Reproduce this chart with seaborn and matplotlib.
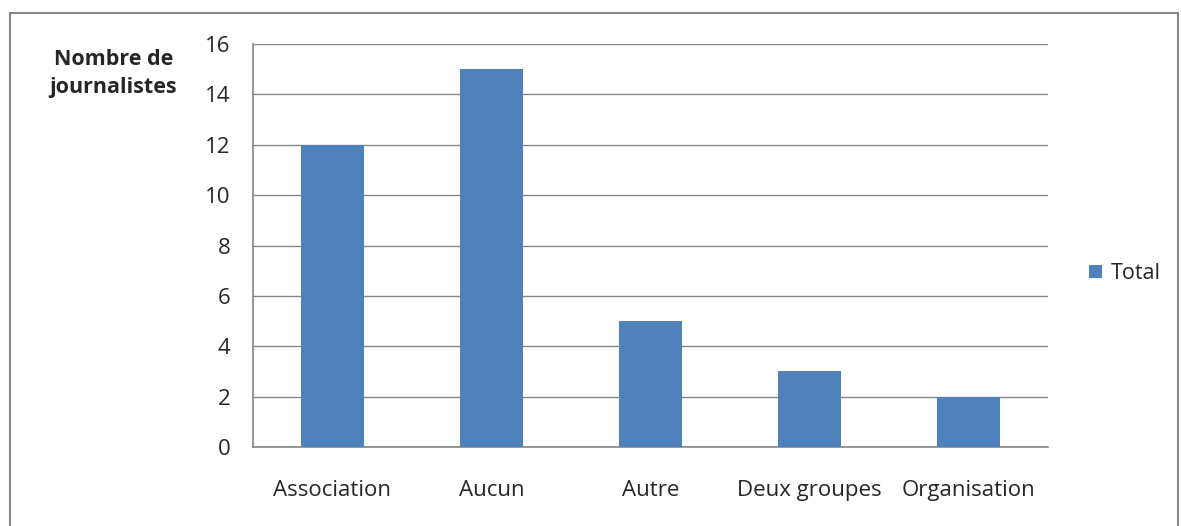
import matplotlib
matplotlib.use("Agg")
import matplotlib.pyplot as plt
import seaborn as sns
import pandas as pd
import numpy as np
from matplotlib.patches import Rectangle

categories = ["Association", "Aucun", "Autre", "Deux groupes", "Organisation"]
totals = [12, 15, 5, 3, 2]
y_ticks = [0, 2, 4, 6, 8, 10, 12, 14, 16]

sns.set_style("white")
plt.rcParams["font.family"] = ["Open Sans", "DejaVu Sans"]

df = pd.DataFrame({"categorie": categories, "total": totals})

fig = plt.figure(figsize=(11.81, 5.26), dpi=100)
ax = fig.add_axes([0.2142, 0.1502, 0.8874 - 0.2142, 0.9163 - 0.1502])

sns.barplot(data=df, x="categorie", y="total", color="#4F81BD", width=0.4,
            saturation=1, label="Total", ax=ax, zorder=3, linewidth=0)

grey = "#868686"
ax.set_ylim(0, 16)
ax.set_xlim(-0.5, len(categories) - 0.5)
ax.set_yticks(y_ticks)
ax.yaxis.grid(True, color=grey, linewidth=1, zorder=0)
ax.set_xlabel("")
ax.set_ylabel("")
for s in ["top", "right"]:
    ax.spines[s].set_visible(False)
for s in ["left", "bottom"]:
    ax.spines[s].set_color(grey)
    ax.spines[s].set_linewidth(1.2)

ax.tick_params(axis="y", length=7, color=grey, width=1.2, labelsize=16, pad=9)
ax.tick_params(axis="x", which="major", length=0, labelsize=16, pad=24)
ax.set_xticks(np.arange(-0.5, len(categories)), minor=True)
ax.tick_params(axis="x", which="minor", length=7, color=grey, width=1.2)

leg = ax.legend(loc="center left", bbox_to_anchor=(1.027, 0.43), frameon=False,
                fontsize=15.5, handlelength=0.6, handleheight=0.6, handletextpad=0.4)

fig.text(0.096, 0.861, "Nombre de\njournalistes", ha="center", va="center",
         fontsize=15.5, fontweight="bold", linespacing=1.45)

# chart border
fig.patches.append(Rectangle((10 / 1181, -0.01), 1168 / 1181, 1 - 13 / 526 + 0.01,
                             transform=fig.transFigure, fill=False,
                             edgecolor=grey, linewidth=1.5))

fig.savefig("out.png", dpi=100)
